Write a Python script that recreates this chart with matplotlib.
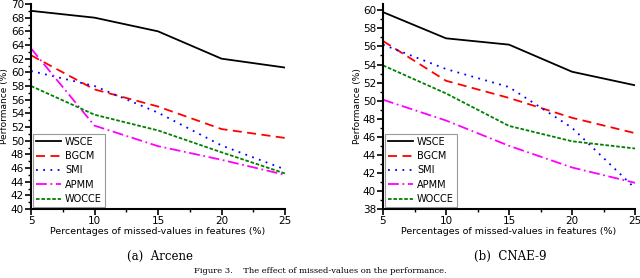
import matplotlib.pyplot as plt
from matplotlib.ticker import MultipleLocator

# Datos
missing = [5, 10, 15, 20, 25]
methods = ['WSCE', 'BGCM', 'SMI', 'APMM', 'WOCCE']

arcene_wsce = [69.0, 68.0, 66.0, 62.0, 60.7]
arcene_bgcm = [62.5, 57.5, 55.0, 51.7, 50.4]
arcene_smi = [60.2, 58.0, 54.1, 49.3, 45.8]
arcene_apmm = [63.5, 52.2, 49.2, 47.2, 45.0]
arcene_wocce = [58.0, 53.8, 51.5, 48.3, 45.2]

cnae_wsce = [59.8, 56.9, 56.2, 53.2, 51.7]
cnae_bgcm = [56.6, 52.2, 50.3, 48.1, 46.4]
cnae_smi = [56.2, 53.5, 51.5, 47.0, 40.3]
cnae_apmm = [50.1, 47.8, 45.0, 42.6, 40.9]
cnae_wocce = [53.9, 50.8, 47.2, 45.5, 44.7]

styles = [
    dict(color='black', linestyle='-'),
    dict(color='red', linestyle=(0, (5, 3))),
    dict(color='blue', linestyle=(0, (1, 3))),
    dict(color='magenta', linestyle=(0, (6, 2, 1, 2))),
    dict(color='green', linestyle=(0, (2, 1))),
]


def draw(ax, series, ylim):
    for name, vals, st in zip(methods, series, styles):
        ax.plot(missing, vals, lw=1.3, label=name, **st)
    ax.set_xlim(5, 25)
    ax.set_ylim(*ylim)
    ax.xaxis.set_major_locator(MultipleLocator(5))
    ax.xaxis.set_minor_locator(MultipleLocator(2.5))
    ax.yaxis.set_major_locator(MultipleLocator(2))
    ax.yaxis.set_minor_locator(MultipleLocator(1))
    ax.spines['top'].set_visible(False)
    ax.spines['right'].set_visible(False)
    ax.spines['left'].set_linewidth(1.5)
    ax.spines['bottom'].set_linewidth(1.5)
    ax.tick_params(which='major', length=4, width=1.2, labelsize=7.5, pad=1)
    ax.tick_params(which='minor', length=2, width=1.0)
    ax.set_xlabel('Percentages of missed-values in features (%)', fontsize=6.8, labelpad=1)
    ax.set_ylabel('Performance (%)', fontsize=6.5)
    ax.yaxis.set_label_coords(-0.085, 0.5)
    leg = ax.legend(loc='lower left', fontsize=7, handlelength=2.6, borderpad=0.3,
                    labelspacing=0.45, handletextpad=0.4, fancybox=False,
                    borderaxespad=0.2)
    leg.get_frame().set_edgecolor('gray')
    leg.get_frame().set_linewidth(0.8)


fig = plt.figure(figsize=(6.4, 2.78), dpi=100)
ax1 = fig.add_axes([31 / 640, 69 / 278, 254 / 640, 205 / 278])
ax2 = fig.add_axes([383 / 640, 69 / 278, 252 / 640, 205 / 278])

draw(ax1, [arcene_wsce, arcene_bgcm, arcene_smi, arcene_apmm, arcene_wocce], (40, 70))
draw(ax2, [cnae_wsce, cnae_bgcm, cnae_smi, cnae_apmm, cnae_wocce], (38, 60.7))

fig.text(160 / 640, 1 - 256 / 278, '(a)  Arcene', ha='center', va='center',
         fontsize=8.5, family='DejaVu Serif')
fig.text(510 / 640, 1 - 256 / 278, '(b)  CNAE-9', ha='center', va='center',
         fontsize=8.5, family='DejaVu Serif')
fig.text(0.5, 1 - 271 / 278, 'Figure 3.    The effect of missed-values on the performance.',
         ha='center', va='center', fontsize=6, family='DejaVu Serif')

fig.savefig('out.png', dpi=100)
